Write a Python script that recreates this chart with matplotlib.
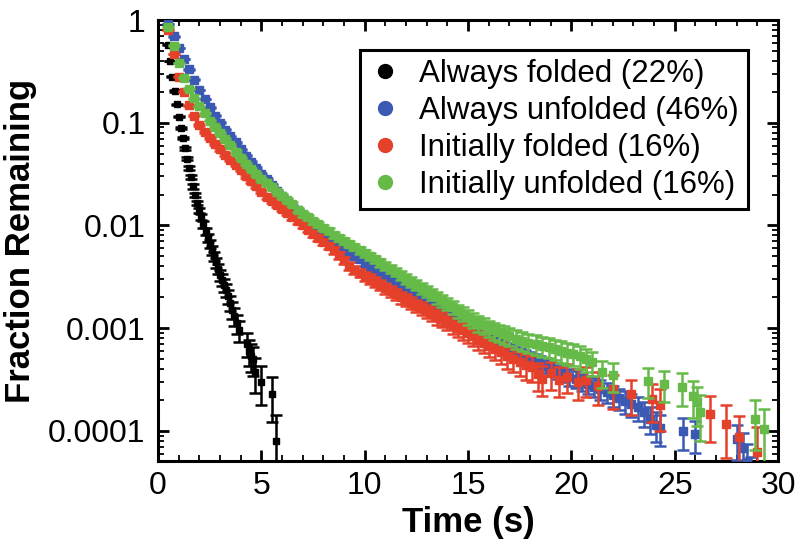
import numpy as np
import matplotlib.pyplot as plt
from matplotlib.lines import Line2D
from matplotlib.ticker import FixedLocator, FixedFormatter, MultipleLocator, LogLocator, NullFormatter

plt.rcParams['font.family'] = ['Liberation Sans', 'DejaVu Sans']

labels = ['Always folded (22%)', 'Always unfolded (46%)',
          'Initially folded (16%)', 'Initially unfolded (16%)']
colors = ['#000000', '#3b59b3', '#e4402a', '#66bb48']
# molecules behind each survival curve (sets the counting error bars)
n_total = [20000, 86000, 30000, 30000]

ytick_vals = [1, 0.1, 0.01, 0.001, 0.0001]
ytick_labels = ['1', '0.1', '0.01', '0.001', '0.0001']

# always folded: 0.1 s frames, then the last sparse points
folded_t = [0.5, 0.6, 0.7, 0.8, 0.9, 1.0, 1.1, 1.2, 1.3, 1.4, 1.5, 1.6, 1.7, 1.8,
            1.9, 2.0, 2.1, 2.2, 2.3, 2.4, 2.5, 2.6, 2.7, 2.8, 2.9, 3.0, 3.1, 3.2,
            3.3, 3.4, 3.5, 3.6, 3.7, 3.8, 3.9, 4.3, 4.4, 4.5, 4.6, 4.7, 5.0, 5.5, 5.7]
folded_log = [-0.24, -0.40, -0.55, -0.69, -0.82, -0.94, -1.05, -1.15, -1.25, -1.35,
              -1.44, -1.53, -1.62, -1.70, -1.78, -1.85, -1.92, -1.99, -2.06, -2.12,
              -2.18, -2.24, -2.30, -2.36, -2.42, -2.48, -2.53, -2.58, -2.63, -2.69,
              -2.75, -2.82, -2.88, -2.95, -3.02, -3.15, -3.22, -3.27, -3.30, -3.43,
              -3.52, -3.64, -4.10]

# the other three: 0.25 s frames up to 16 s, then the tails
grid_t = np.arange(0.5, 16.01, 0.25)

unfolded_log = [-0.04, -0.16, -0.27, -0.38, -0.48, -0.58, -0.68, -0.77, -0.85, -0.93,
                -1.00, -1.07, -1.13, -1.19, -1.26, -1.32, -1.38, -1.44, -1.50, -1.55,
                -1.61, -1.66, -1.71, -1.76, -1.81, -1.85, -1.90, -1.95, -1.99, -2.03,
                -2.07, -2.11, -2.15, -2.19, -2.23, -2.27, -2.30, -2.33, -2.37, -2.40,
                -2.43, -2.46, -2.49, -2.52, -2.55, -2.58, -2.61, -2.64, -2.67, -2.70,
                -2.73, -2.76, -2.79, -2.82, -2.86, -2.89, -2.92, -2.95, -2.98, -3.01,
                -3.04, -3.07, -3.10]
unfolded_tail_t = [16.25, 16.5, 16.75, 17.0, 17.25, 17.5, 17.75, 18.0, 18.25, 18.5,
                   18.75, 19.0, 19.3, 19.6, 19.9, 20.2, 20.5, 20.8, 21.1, 21.4, 21.7,
                   22.0, 22.3, 22.6, 22.9, 23.2, 23.5, 23.8, 24.1, 24.3, 25.4, 26.0,
                   28.0, 28.3, 28.5, 28.7]
unfolded_tail_log = [-3.12, -3.14, -3.17, -3.20, -3.22, -3.25, -3.27, -3.29, -3.31,
                     -3.33, -3.36, -3.38, -3.41, -3.44, -3.47, -3.49, -3.52, -3.54,
                     -3.57, -3.59, -3.62, -3.65, -3.68, -3.71, -3.74, -3.77, -3.82,
                     -3.88, -3.94, -3.97, -4.00, -4.03, -4.08, -4.17, -4.30, -4.45]

init_folded_log = [-0.10, -0.33, -0.55, -0.70, -0.83, -0.93, -1.02, -1.09, -1.15, -1.21,
                   -1.26, -1.31, -1.36, -1.41, -1.46, -1.52, -1.57, -1.62, -1.67, -1.72,
                   -1.76, -1.80, -1.84, -1.88, -1.92, -1.96, -2.00, -2.04, -2.08, -2.12,
                   -2.16, -2.20, -2.24, -2.29, -2.34, -2.39, -2.43, -2.46, -2.49, -2.52,
                   -2.55, -2.58, -2.61, -2.64, -2.67, -2.70, -2.72, -2.75, -2.78, -2.80,
                   -2.83, -2.86, -2.89, -2.91, -2.94, -2.97, -3.00, -3.02, -3.05, -3.08,
                   -3.11, -3.14, -3.17]
init_folded_tail_t = [16.3, 16.6, 16.9, 17.2, 17.5, 17.8, 18.1, 18.4, 18.6, 19.0, 19.4,
                      19.8, 20.3, 20.7, 21.3, 22.0, 22.9, 23.9, 24.3, 26.7, 27.5, 28.1,
                      29.0]
init_folded_tail_log = [-3.20, -3.23, -3.27, -3.30, -3.33, -3.36, -3.38, -3.45, -3.49,
                        -3.44, -3.50, -3.47, -3.52, -3.50, -3.56, -3.59, -3.64, -3.69,
                        -3.75, -3.83, -3.93, -4.06, -4.20]

init_unfolded_log = [-0.07, -0.25, -0.42, -0.56, -0.67, -0.76, -0.84, -0.91, -0.98, -1.04,
                     -1.10, -1.16, -1.22, -1.28, -1.34, -1.40, -1.45, -1.50, -1.55, -1.59,
                     -1.63, -1.67, -1.71, -1.75, -1.79, -1.85, -1.89, -1.92, -1.96, -1.99,
                     -2.02, -2.05, -2.09, -2.12, -2.15, -2.18, -2.21, -2.24, -2.27, -2.30,
                     -2.33, -2.36, -2.39, -2.42, -2.45, -2.48, -2.52, -2.55, -2.58, -2.61,
                     -2.64, -2.67, -2.70, -2.73, -2.76, -2.79, -2.83, -2.86, -2.89, -2.92,
                     -2.95, -2.97, -3.00]
init_unfolded_tail_t = [16.25, 16.5, 16.75, 17.0, 17.3, 17.6, 17.9, 18.3, 18.6, 18.9,
                        19.2, 19.5, 19.8, 20.1, 20.4, 20.7, 21.0, 21.5, 22.0, 23.7,
                        24.5, 25.35, 25.9, 26.1, 26.2, 28.9, 29.3]
init_unfolded_tail_log = [-3.02, -3.04, -3.06, -3.08, -3.10, -3.12, -3.14, -3.15, -3.17,
                          -3.18, -3.20, -3.22, -3.24, -3.25, -3.27, -3.30, -3.33, -3.43,
                          -3.46, -3.51, -3.54, -3.57, -3.66, -3.72, -3.82, -3.88, -3.98]

series = [
    (folded_t, folded_log),
    (list(grid_t) + unfolded_tail_t, unfolded_log + unfolded_tail_log),
    (list(grid_t) + init_folded_tail_t, init_folded_log + init_folded_tail_log),
    (list(grid_t) + init_unfolded_tail_t, init_unfolded_log + init_unfolded_tail_log),
]

fig = plt.figure(figsize=(7.98, 5.51), dpi=100)
ax = fig.add_axes([0.198, 0.1633, 0.777, 0.8004])
ax.set_yscale('log')

draw_order = [1, 2, 3, 0]
for i in draw_order:
    t, lg = series[i]
    y = 10.0 ** np.array(lg)
    err = np.sqrt(y * (1 - y) / n_total[i])
    lower = np.minimum(err, y - 1e-8)
    ms = 4 if i == 0 else 5.5
    ax.errorbar(t, y, yerr=[lower, err], fmt='s', ms=ms, color=colors[i],
                ecolor=colors[i], elinewidth=1.8, capsize=4.5, capthick=1.8,
                zorder=2 + i)

ax.set_xlim(0, 30)
ax.set_ylim(5.1e-5, 1)
ax.xaxis.set_major_locator(MultipleLocator(5))
ax.xaxis.set_minor_locator(MultipleLocator(1))
ax.yaxis.set_major_locator(FixedLocator(ytick_vals))
ax.yaxis.set_major_formatter(FixedFormatter(ytick_labels))
ax.yaxis.set_minor_locator(LogLocator(base=10, subs=np.arange(2, 10)))
ax.yaxis.set_minor_formatter(NullFormatter())

ax.tick_params(which='both', direction='in', top=True, right=True, labelsize=23)
ax.tick_params(which='major', length=8, width=2)
ax.tick_params(which='minor', length=4, width=1.3)
ax.tick_params(axis='x', pad=7)
ax.tick_params(axis='y', pad=9)
for s in ax.spines.values():
    s.set_linewidth(2.2)

ax.set_xlabel('Time (s)', fontsize=25, fontweight='bold', labelpad=4)
ax.set_ylabel('Fraction Remaining', fontsize=25, fontweight='bold', labelpad=8)

handles = [Line2D([], [], marker='o', ls='', ms=10, color=c) for c in colors]
leg = ax.legend(handles, labels, loc='upper right', bbox_to_anchor=(0.9516, 0.932),
                borderaxespad=0, fontsize=22.5, frameon=True, fancybox=False,
                framealpha=1, edgecolor='black', handlelength=1.0, handletextpad=0.6,
                labelspacing=0.22, borderpad=0.3)
leg.get_frame().set_linewidth(2.2)

fig.savefig('out.png', dpi=100)
